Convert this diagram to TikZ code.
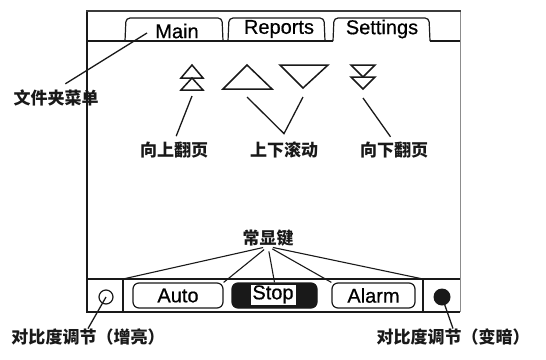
\documentclass[tikz,border=0pt]{standalone}
\usepackage{fontspec}
\setmainfont{Liberation Sans}
\newfontfamily\uifont{Liberation Sans}[FakeBold=0.6]
\newfontfamily\cjk{Noto Sans CJK SC}
\definecolor{inkblack}{RGB}{25,25,25}
\definecolor{framegray}{RGB}{140,140,140}

\tikzset{
  tabtext/.style={font=\uifont\fontsize{20}{20}\selectfont, inner sep=0pt},
  cnlabel/.style={font=\cjk\bfseries\fontsize{17}{17}\selectfont, inner sep=0pt, text=inkblack},
  leader/.style={line width=1.3pt, inkblack},
  icon/.style={line width=1.5pt, inkblack},
  tabline/.style={line width=1.2pt, inkblack, rounded corners=4pt},
  keybtn/.style={draw=inkblack, line width=1.2pt, rounded corners=6pt, minimum height=25pt,
    inner sep=0pt, font=\uifont\fontsize{20}{20}\selectfont},
}

\begin{document}
\begin{tikzpicture}[x=1pt, y=-1pt]

% Canvas
\useasboundingbox (0,0) rectangle (546,359);

% Screen frame
\draw[line width=1.3pt, inkblack] (87,11) -- (87,312) -- (460,312);
\draw[line width=1pt, framegray] (460,11) -- (460,312);
\draw[line width=2.5pt, inkblack!85] (86,11) -- (461,11);

% Tabs
\draw[line width=1.2pt, inkblack] (87,41) -- (333,41);
\draw[line width=1.2pt, inkblack] (430,41) -- (460,41);
\draw[tabline] (125,41) -- (126,18) -- (222,18) -- (223,41);
\draw[tabline] (228,41) -- (229,18) -- (324,18) -- (325,41);
\draw[tabline] (333,41) -- (334,18) -- (429,18) -- (430,41);
\node[tabtext] (main) at (177,31) {Main};
\node[tabtext] (reports) at (279,29) {Reports};
\node[tabtext] (settings) at (382,29) {Settings};

% Scroll icons
\draw[icon] (181,78) -- (192,65) -- (203,78) -- cycle;
\draw[icon] (181,90) -- (192,78) -- (203,90) -- cycle;
\draw[icon] (223,89) -- (247,65) -- (272,89) -- cycle;
\draw[icon] (280,65) -- (328,65) -- (303,88) -- cycle;
\draw[icon] (351,65) -- (375,65) -- (363,77) -- cycle;
\draw[icon] (351,77) -- (375,77) -- (363,89) -- cycle;

% Bottom key bar
\draw[line width=1.2pt, inkblack] (87,279) -- (460,279);
\draw[line width=1.2pt, inkblack] (123,279) -- (123,312);
\draw[line width=1.2pt, inkblack] (423,279) -- (423,312);
\coordinate (divl) at (123,279);
\coordinate (divr) at (423,279);

\node[circle, draw=inkblack, line width=1.2pt, minimum size=14pt, inner sep=0pt] (bright) at (106,297) {};
\node[circle, fill=inkblack, minimum size=17pt, inner sep=0pt] (dark) at (442,297) {};

\node[keybtn, minimum width=90pt] (auto) at (178,295.5) {Auto};
\node[keybtn, minimum width=85pt, fill=inkblack] (stop) at (274.5,295.5) {};
\node[draw=inkblack, fill=white, line width=0.8pt, inner sep=0pt, minimum width=46pt,
  minimum height=21pt, anchor=north, font=\uifont\fontsize{20}{20}\selectfont] (stoptext) at (273,283.5) {Stop};
\node[keybtn, minimum width=83pt] (alarm) at (373.5,295.5) {Alarm};

% Labels
\node[cnlabel] (lblfolder) at (56,98) {文件夹菜单};
\node[cnlabel] (lblpgup) at (174,150) {向上翻页};
\node[cnlabel] (lblscroll) at (284,150) {上下滚动};
\node[cnlabel] (lblpgdn) at (394,150) {向下翻页};
\node[cnlabel] (keys) at (268,238) {常显键};
\node[cnlabel] (lblbright) at (88,337) {对比度调节（增亮）};
\node[cnlabel] (lbldark) at (453,337) {对比度调节（变暗）};

% Leaders
\coordinate (foldertip) at (147,33);
\coordinate (pgupicon) at (192,96);
\coordinate (scrollup) at (247,97);
\coordinate (scrolldn) at (303,97);
\coordinate (pgdnicon) at (363,98);

\draw[leader, shorten <=11pt] (lblfolder.north) -- (foldertip);
\draw[leader, shorten >=6pt] (pgupicon) -- (lblpgup.north);
\draw[leader] (scrollup) -- ([yshift=8pt]lblscroll.north) -- (scrolldn);
\draw[leader, shorten >=6pt] (pgdnicon) -- (lblpgdn.north);

\foreach \t in {divl, auto.north east, stop.north, alarm.north west, divr} {
  \draw[leader, line width=1.1pt, shorten <=5pt] (keys.south) -- (\t);
}

\draw[leader] (bright.center) -- (lblbright.north);
\draw[leader] (dark.center) -- (lbldark.north);

\end{tikzpicture}
\end{document}
